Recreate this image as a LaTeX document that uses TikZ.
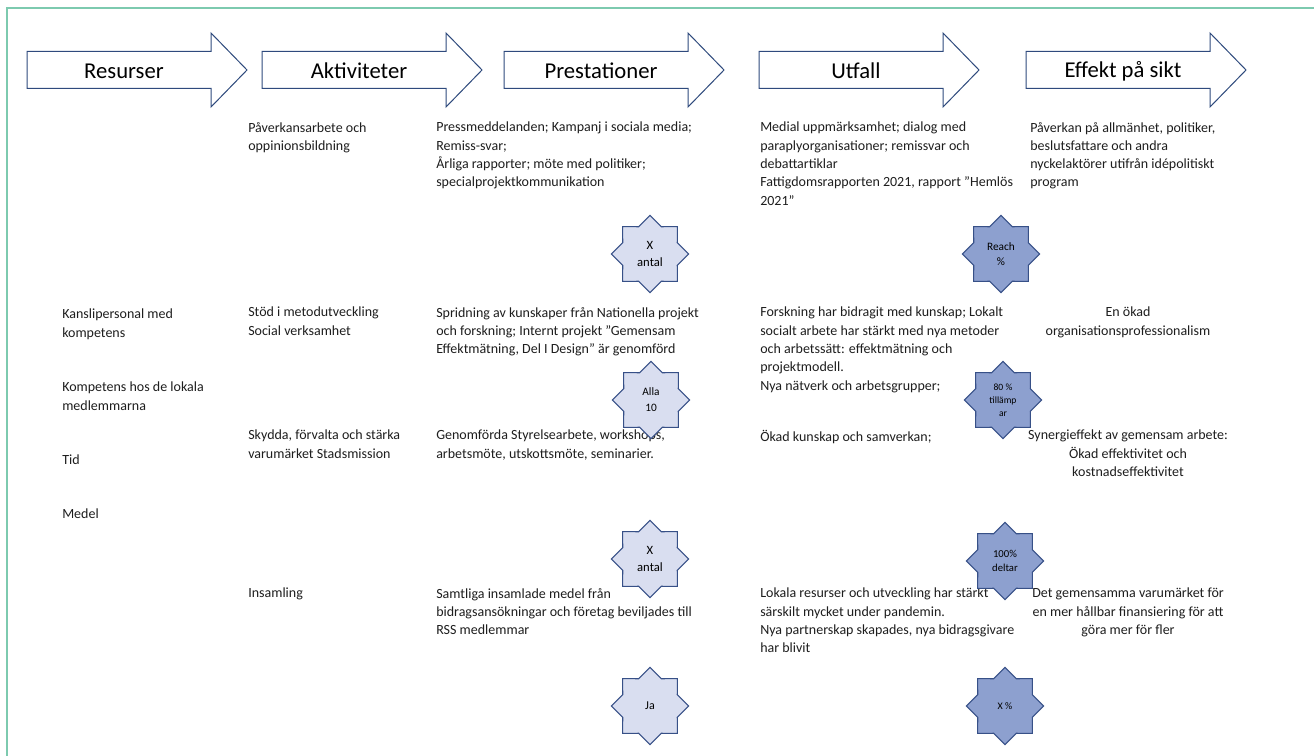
\documentclass[tikz,border=0pt]{standalone}
\usepackage{fontspec}
\setmainfont{Carlito}
\usetikzlibrary{shapes.geometric}
\definecolor{frameg}{RGB}{125,202,175}
\definecolor{arrowb}{RGB}{47,74,125}
\definecolor{starl}{RGB}{217,222,240}
\definecolor{stard}{RGB}{141,160,207}
\definecolor{starb}{RGB}{55,80,135}
\definecolor{txt}{RGB}{30,30,30}
\tikzset{
  body/.style={anchor=north west, inner sep=0pt, align=left, font=\fontsize{10.5}{13.7}\selectfont, text=txt},
  bodyc/.style={body, anchor=north, align=center},
  hdr/.style={inner sep=0pt, font=\fontsize{17}{20}\selectfont, text=black},
  starbase/.style={star, star points=8, star point ratio=1.31, minimum size=58pt, inner sep=0pt, draw=starb, line width=0.8pt, align=center, text=black},
  starlight/.style={starbase, fill=starl, font=\fontsize{9.5}{13}\selectfont},
  stardark/.style={starbase, fill=stard, font=\fontsize{8.5}{11.5}\selectfont},
  hdrshape/.style={draw=arrowb, line width=0.75pt, fill=white, line join=miter},
}
\newcommand\hdrarrow[3]{%
  \draw[hdrshape] (#1,51.5) -- ++(184,0) -- ++(0,-18.5) -- ++(36,37) -- ++(-36,37) -- ++(0,-18.5) -- ++(-184,0) -- cycle;
  \node[hdr] (#2) at ({#1+97},71) {#3};
}
\begin{document}
\begin{tikzpicture}[x=0.75pt,y=-0.75pt]
\useasboundingbox (0,0) rectangle (1314,756);
\fill[white] (0,0) rectangle (1314,756);
\draw[frameg, line width=1.5pt] (1320,8) -- (7,8) -- (7,760);

% header arrows
\hdrarrow{27}{h1}{Resurser}
\hdrarrow{262}{h2}{Aktiviteter}
\hdrarrow{504}{h3}{Prestationer}
\hdrarrow{759}{h4}{Utfall}
\hdrarrow{1026}{h5}{Effekt på sikt}

% column A
\node[body] (a1) at (62,309) {Kanslipersonal med\\kompetens};
\node[body] (a2) at (62,382) {Kompetens hos de lokala\\medlemmarna};
\node[body] (a3) at (62,455) {Tid};
\node[body] (a4) at (62,509) {Medel};

% column B
\node[body] (b1) at (248,122) {Påverkansarbete och\\oppinionsbildning};
\node[body] (b2) at (248,307) {Stöd i metodutveckling\\Social verksamhet};
\node[body] (b3) at (248,430) {Skydda, förvalta och stärka\\varumärket Stadsmission};
\node[body] (b4) at (248,588) {Insamling};

% column C
\node[body] (c1) at (436,122) {Pressmeddelanden; Kampanj i sociala media;\\Remiss-svar;\\Årliga rapporter; möte med politiker;\\specialprojektkommunikation};
\node[body] (c2) at (436,307) {Spridning av kunskaper från Nationella projekt\\och forskning; Internt projekt ”Gemensam\\Effektmätning, Del I Design” är genomförd};
\node[body] (c3) at (436,430) {Genomförda Styrelsearbete, workshops,\\arbetsmöte, utskottsmöte, seminarier.};
\node[body] (c4) at (436,588) {Samtliga insamlade medel från\\bidragsansökningar och företag beviljades till\\RSS medlemmar};

% column D
\node[body] (d1) at (760,122) {Medial uppmärksamhet; dialog med\\paraplyorganisationer; remissvar och\\debattartiklar\\Fattigdomsrapporten 2021, rapport ”Hemlös\\2021”};
\node[body] (d2) at (760,307) {Forskning har bidragit med kunskap; Lokalt\\socialt arbete har stärkt med nya metoder\\och arbetssätt: effektmätning och\\projektmodell.\\Nya nätverk och arbetsgrupper;};
\node[body] (d3) at (760,430) {Ökad kunskap och samverkan;};
\node[body] (d4) at (760,588) {Lokala resurser och utveckling har stärkt\\särskilt mycket under pandemin.\\Nya partnerskap skapades, nya bidragsgivare\\har blivit};

% column E
\node[body] (e1) at (1030,122) {Påverkan på allmänhet, politiker,\\beslutsfattare och andra\\nyckelaktörer utifrån idépolitiskt\\program};
\node[bodyc] (e2) at (1128,307) {En ökad\\organisationsprofessionalism};
\node[bodyc] (e3) at (1128,430) {Synergieffekt av gemensam arbete:\\Ökad effektivitet och\\kostnadseffektivitet};
\node[bodyc] (e4) at (1128,588) {Det gemensamma varumärket för\\en mer hållbar finansiering för att\\göra mer för fler};

% stars
\node[starlight] (s1) at (650,254) {X\\antal};
\node[stardark] (s2) at (1001,254) {Reach\\\%};
\node[starlight, font=\fontsize{8.5}{12}\selectfont] (s3) at (651,400) {Alla\\10};
\node[stardark, font=\fontsize{7.2}{9.8}\selectfont] (s4) at (1003,400) {80 \%\\tillämp\\ar};
\node[starlight] (s5) at (650,559) {X\\antal};
\node[stardark, font=\fontsize{8}{11}\selectfont] (s6) at (1005,561) {100\%\\deltar};
\node[starlight, font=\fontsize{9}{12}\selectfont] (s7) at (650,706) {Ja};
\node[stardark, font=\fontsize{7.5}{10}\selectfont] (s8) at (1005,706) {X \%};
\end{tikzpicture}
\end{document}
